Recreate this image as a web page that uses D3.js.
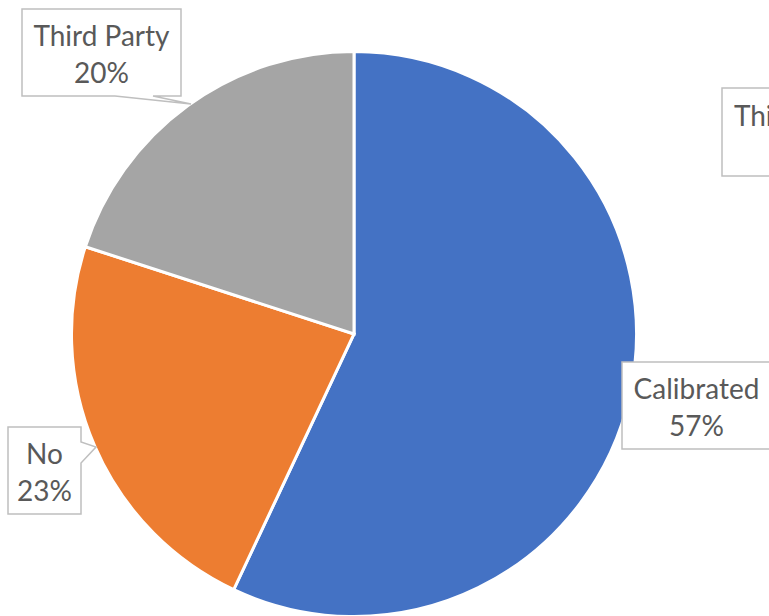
<!DOCTYPE html>
<html>
<head>
<meta charset="utf-8">
<script src="https://cdn.jsdelivr.net/npm/d3@7"></script>
<style>
  html, body { margin: 0; padding: 0; background: #ffffff; }
  svg { display: block; }
</style>
</head>
<body>
<svg id="chart" width="769" height="616"></svg>
<script>
// Share of responses by calibration status
const categories = ["Calibrated", "No", "Third Party"];
const values = [57, 23, 20];
const percentLabels = ["57%", "23%", "20%"];
const colors = ["#4472C4", "#ED7D31", "#A5A5A5"];

const width = 769, height = 616;
const cx = 354, cy = 334, radius = 282.5;

const svg = d3.select("#chart");
const g = svg.append("g").attr("transform", `translate(${cx},${cy})`);

const pie = d3.pie().sort(null).value(d => d.value).startAngle(0).endAngle(2 * Math.PI);
const arc = d3.arc().innerRadius(0).outerRadius(radius);

const data = categories.map((c, i) => ({ name: c, value: values[i], pct: percentLabels[i], color: colors[i] }));
const arcs = pie(data);

g.selectAll("path.slice")
  .data(arcs)
  .join("path")
  .attr("class", "slice")
  .attr("d", arc)
  .attr("fill", d => d.data.color)
  .attr("stroke", "#ffffff")
  .attr("stroke-width", 3)
  .attr("stroke-linejoin", "miter");

// Callout boxes: box bounds plus optional pointer (tip sits on the slice edge)
const callouts = [
  { name: "Third Party", pct: "20%", x0: 22, y0: 9, x1: 181, y1: 96,
    pointer: { side: "bottom", a: 153, b: 115, tip: [191, 104] } },
  { name: "No", pct: "23%", x0: 8, y0: 427, x1: 81, y1: 514,
    pointer: { side: "right", a: 442, b: 463, tip: [96, 447] } },
  { name: "Calibrated", pct: "57%", x0: 622, y0: 362, x1: 771, y1: 449, pointer: null },
  { name: "Third Party", pct: "20%", x0: 722, y0: 88, x1: 882, y1: 176, pointer: null }
];

function calloutPath(c) {
  const p = d3.path();
  p.moveTo(c.x0, c.y0);
  p.lineTo(c.x1, c.y0);
  if (c.pointer && c.pointer.side === "right") {
    p.lineTo(c.x1, c.pointer.a);
    p.lineTo(c.pointer.tip[0], c.pointer.tip[1]);
    p.lineTo(c.x1, c.pointer.b);
  }
  p.lineTo(c.x1, c.y1);
  if (c.pointer && c.pointer.side === "bottom") {
    p.lineTo(c.pointer.a, c.y1);
    p.lineTo(c.pointer.tip[0], c.pointer.tip[1]);
    p.lineTo(c.pointer.b, c.y1);
  }
  p.lineTo(c.x0, c.y1);
  p.closePath();
  return p.toString();
}

const labels = svg.append("g").attr("class", "labels");
const lg = labels.selectAll("g.callout")
  .data(callouts)
  .join("g")
  .attr("class", "callout");

lg.append("path")
  .attr("d", calloutPath)
  .attr("fill", "#ffffff")
  .attr("stroke", "#BFBFBF")
  .attr("stroke-width", 1.5);

const fontFamily = "Lato, 'Open Sans', sans-serif";
lg.append("text")
  .attr("x", c => (c.x0 + c.x1) / 2)
  .attr("y", c => (c.y0 + c.y1) / 2 - 6.5)
  .attr("text-anchor", "middle")
  .attr("font-family", fontFamily)
  .attr("font-size", 28)
  .attr("fill", "#595959")
  .text(c => c.name);

lg.append("text")
  .attr("x", c => (c.x0 + c.x1) / 2)
  .attr("y", c => (c.y0 + c.y1) / 2 + 30.5)
  .attr("text-anchor", "middle")
  .attr("font-family", fontFamily)
  .attr("font-size", 28)
  .attr("fill", "#595959")
  .text(c => c.pct);
</script>
</body>
</html>
